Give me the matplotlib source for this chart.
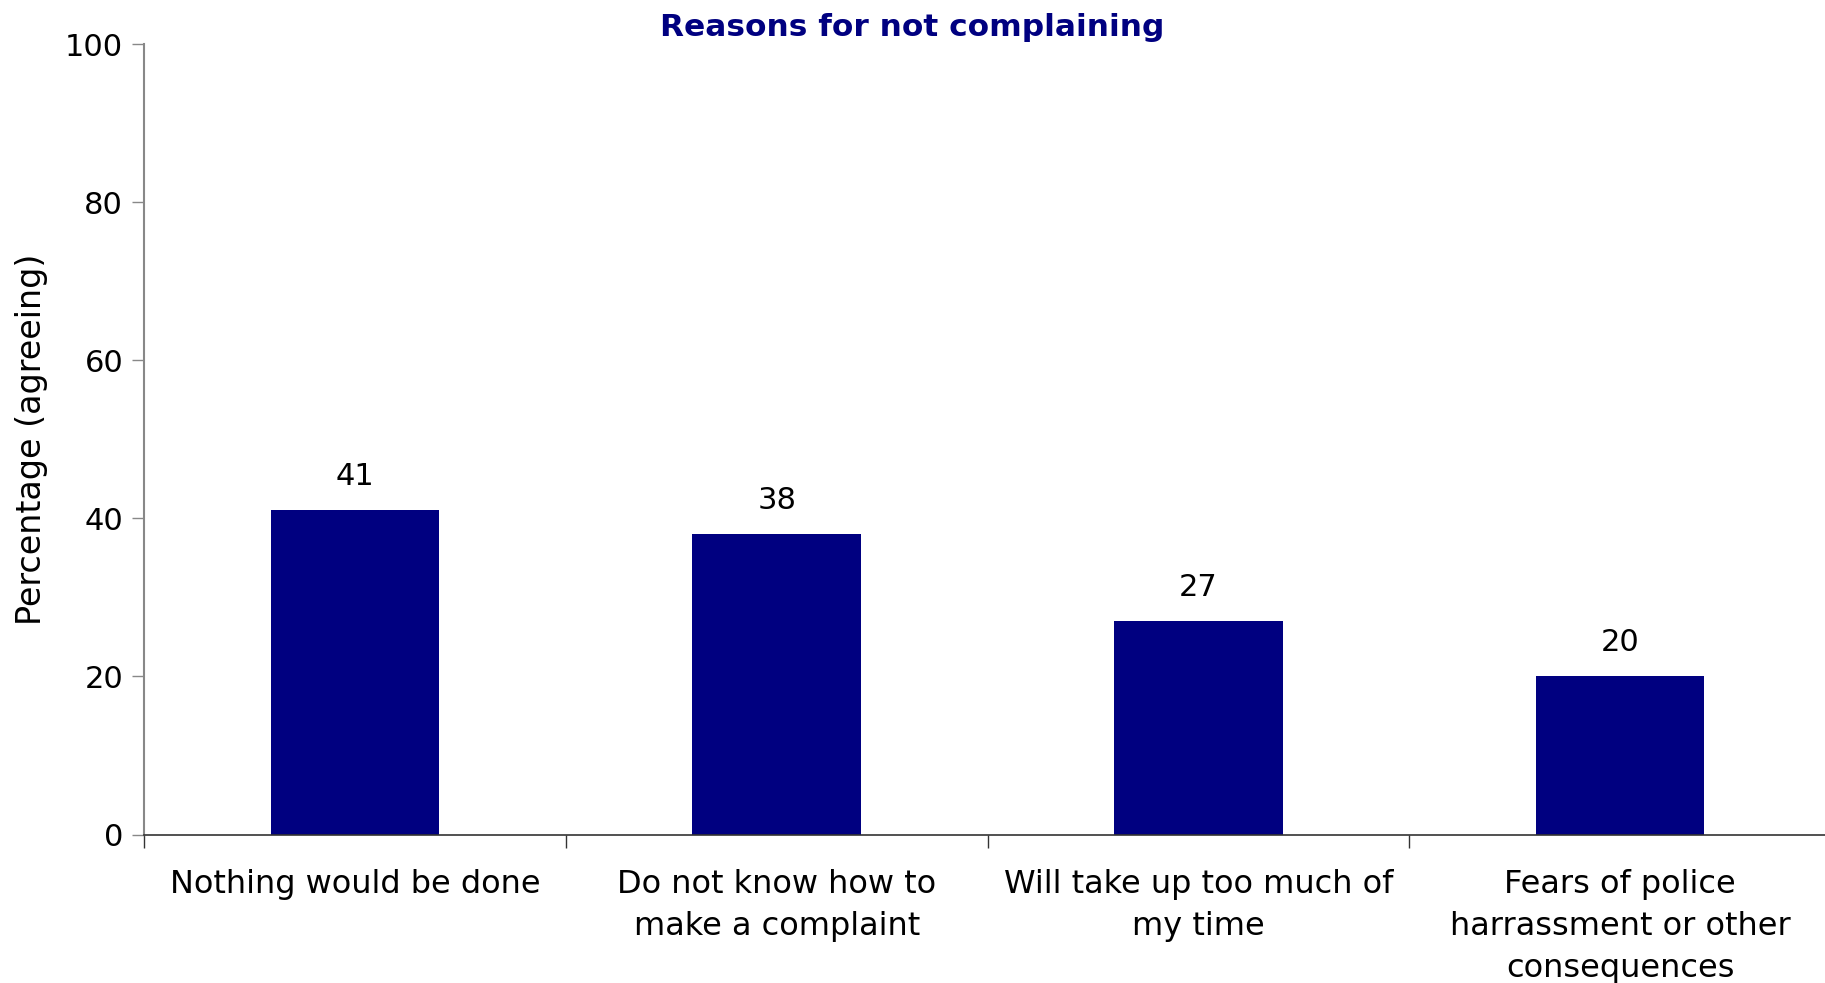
import matplotlib
matplotlib.use("Agg")
import matplotlib.pyplot as plt
import numpy as np

categories = ["Nothing would be done", "Do not know how to\nmake a complaint",
              "Will take up too much of\nmy time", "Fears of police\nharrassment or other\nconsequences"]
values = [41, 38, 27, 20]
yticks = [0, 20, 40, 60, 80, 100]

navy = "#000080"
fig = plt.figure(figsize=(18.25, 9.83), dpi=100)
ax = fig.add_axes([144/1825, 1 - 834.5/983, (1831-144)/1825, (834.5-44)/983])

x = np.arange(len(categories))
ax.bar(x, values, width=0.4, color=navy)
for xi, v in zip(x, values):
    ax.text(xi, v + 2.4, str(v), ha="center", va="bottom", fontsize=22, family="DejaVu Sans")

ax.set_xlim(-0.5, len(categories) - 0.5)
ax.set_ylim(0, 100)
ax.set_yticks(yticks)
ax.set_yticklabels([str(t) for t in yticks], fontsize=22, family="DejaVu Sans")
ax.set_xticks(x)
ax.set_xticklabels(categories, fontsize=23, family="DejaVu Sans", linespacing=1.45)
ax.tick_params(axis="x", length=0, pad=25)
ax.set_xticks(np.arange(len(categories) + 1) - 0.5, minor=True)
ax.tick_params(axis="x", which="minor", length=9, width=1, color="#333333")
ax.tick_params(axis="y", length=9, width=1, color="#888888", pad=6)

for s in ["top", "right"]:
    ax.spines[s].set_visible(False)
ax.spines["left"].set_color("#888888")
ax.spines["left"].set_linewidth(1.5)
ax.spines["bottom"].set_color("#333333")
ax.spines["bottom"].set_linewidth(1.2)

ax.set_ylabel("Percentage (agreeing)", fontsize=24, family="Liberation Sans Narrow", labelpad=12)

fig.text(912/1825, 1 - 27/983, "Reasons for not complaining", ha="center", va="center",
         fontsize=22.5, fontweight="bold", color=navy, family="DejaVu Sans")
fig.text(8/1825, -0.012, "ll, 2011, Table 3", ha="left", va="center",
         fontsize=16, color="#4040a0", family="DejaVu Sans")

fig.savefig("out.png", dpi=100)
